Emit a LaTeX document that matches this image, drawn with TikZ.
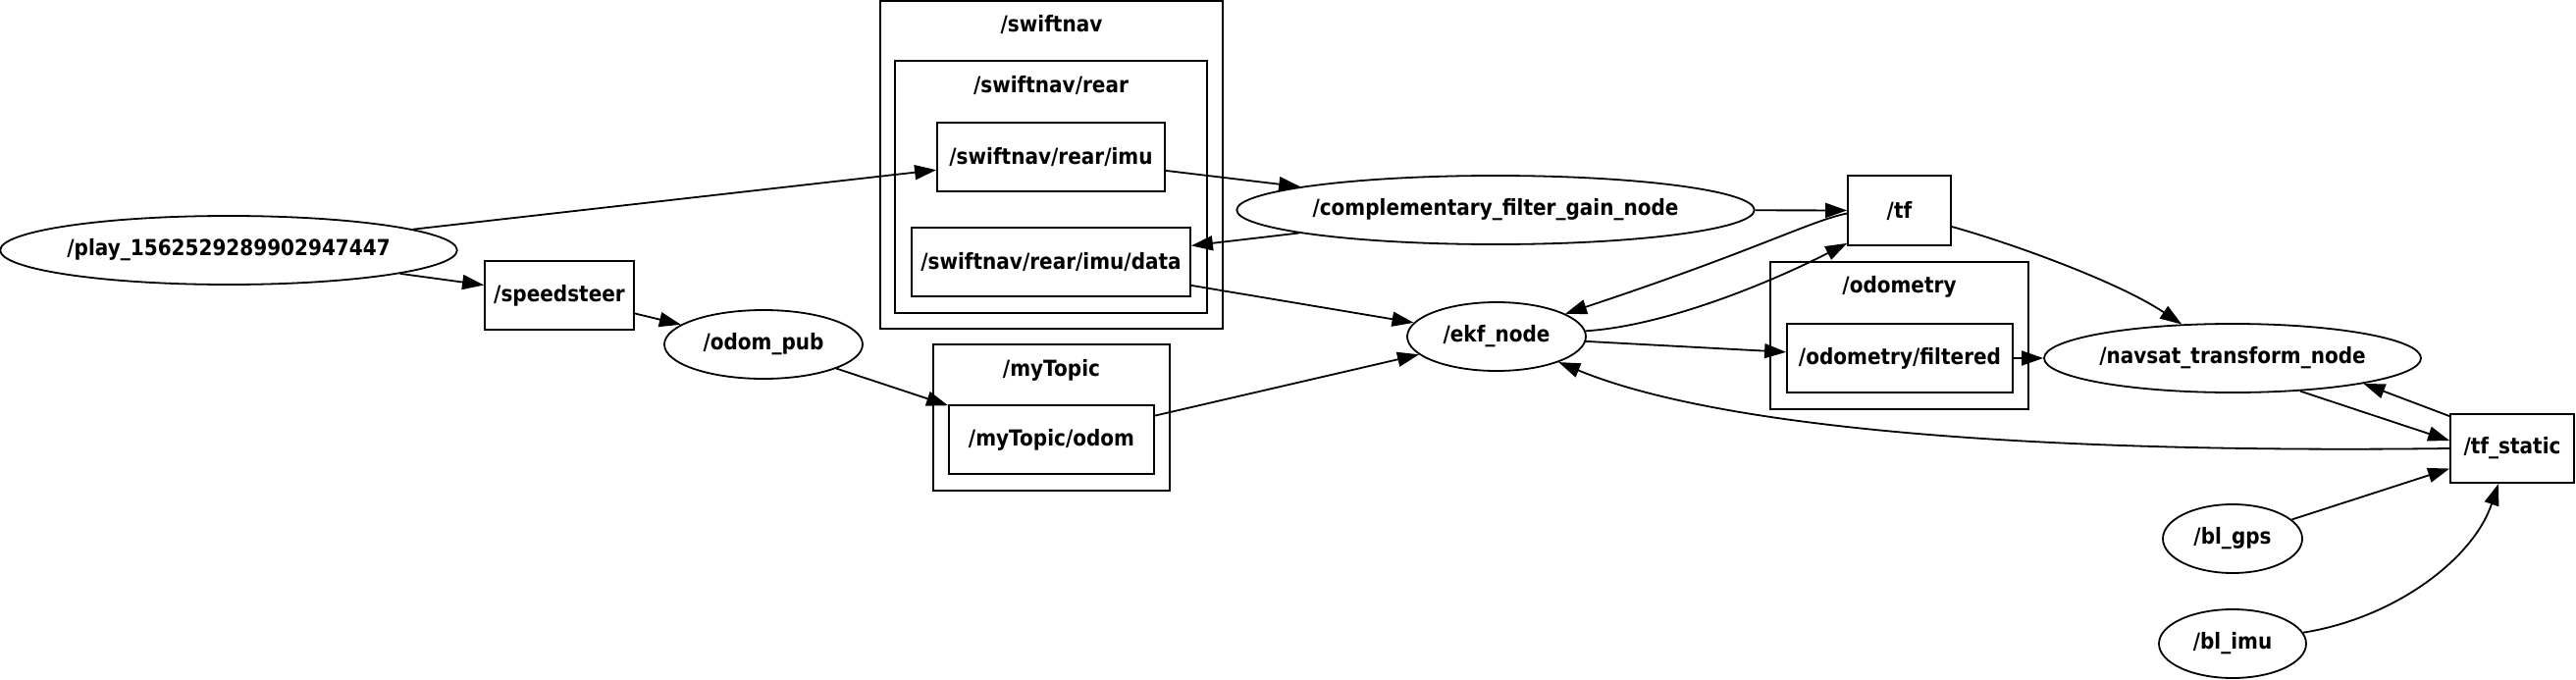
\documentclass[tikz,border=0pt]{standalone}
\usepackage{fontspec}
\setmainfont{DejaVu Sans}[FakeStretch=0.89]
\usetikzlibrary{arrows.meta,shapes.geometric}
\tikzset{
  base/.style={draw, line width=1.8pt, inner sep=0pt, font=\fontsize{22.5}{24}\selectfont\bfseries},
  topicbox/.style={base, rectangle, minimum height=70pt},
  nodeell/.style={base, ellipse, minimum height=70pt},
  cluster/.style={draw, line width=1.8pt, rectangle, inner sep=0pt},
  clabel/.style={inner sep=0pt, font=\fontsize{22.5}{24}\selectfont\bfseries},
  edge/.style={line width=1.8pt, -{Triangle[length=22pt,width=15pt]}},
}
\begin{document}
\begin{tikzpicture}[x=1pt,y=-1pt]
\useasboundingbox (0,0) rectangle (2625,693);
% clusters
\node[cluster, minimum width=349pt, minimum height=334pt] (cswift) at (1071.5,168) {};
\node[clabel] (lswift) at (1071.5,25) {/swiftnav};
\node[cluster, minimum width=318pt, minimum height=257pt] (crear) at (1071,190.5) {};
\node[clabel] (lrear) at (1071,87) {/swiftnav/rear};
\node[cluster, minimum width=241pt, minimum height=149pt] (cmytopic) at (1071.5,425.5) {};
\node[clabel] (lmytopic) at (1071.5,377) {/myTopic};
\node[cluster, minimum width=263pt, minimum height=150pt] (codom) at (1935.5,342) {};
\node[clabel] (lodom) at (1935.5,292) {/odometry};
% topics
\node[topicbox, minimum width=232pt] (imu) at (1071,160) {/swiftnav/rear/imu};
\node[topicbox, minimum width=284pt] (imudata) at (1071,267) {/swiftnav/rear/imu/data};
\node[topicbox, minimum width=152pt] (speedsteer) at (570,301) {/speedsteer};
\node[topicbox, minimum width=209pt] (mtodom) at (1071.5,448) {/myTopic/odom};
\node[topicbox, minimum width=105pt, minimum height=71pt] (tf) at (1935.5,214.5) {/tf};
\node[topicbox, minimum width=230pt] (filtered) at (1936,365) {/odometry/filtered};
\node[topicbox, minimum width=126pt] (tfstatic) at (2560,457) {/tf\_static};
% nodes
\node[nodeell, minimum width=462pt] (play) at (233,255) {/play\_1562529289902947447};
\node[nodeell, minimum width=202pt] (odompub) at (778,351) {/odom\_pub};
\node[nodeell, minimum width=522pt] (comp) at (1524,214) {/complementary\_filter\_gain\_node};
\node[nodeell, minimum width=182pt] (ekf) at (1525,343) {/ekf\_node};
\node[nodeell, minimum width=384pt] (navsat) at (2275,365) {/navsat\_transform\_node};
\node[nodeell, minimum width=142pt] (blgps) at (2275,549) {/bl\_gps};
\node[nodeell, minimum width=150pt] (blimu) at (2275,656) {/bl\_imu};
% edges
\draw[edge] (play) -- (imu);
\draw[edge] (play) -- (speedsteer);
\draw[edge] (speedsteer) -- (odompub);
\draw[edge] (odompub) -- (mtodom);
\draw[edge] (imu) -- (comp);
\draw[edge] (comp) -- (imudata);
\draw[edge] (imudata) -- (ekf);
\draw[edge] (mtodom) -- (ekf);
\draw[edge] (comp) -- (tf);
\draw[edge] ([yshift=-3pt]tf.west) .. controls (1845,225) and (1790,255) .. (ekf);
\draw[edge] (ekf) .. controls (1700,332) and (1810,285) .. ([yshift=3pt]tf.south west);
\draw[edge] (ekf) -- (filtered);
\draw[edge] (filtered) -- (navsat);
\draw[edge] ([yshift=-16.5pt]tf.east) .. controls (2040,245) and (2155,285) .. (navsat);
\draw[edge] (navsat.-26.2) -- ([yshift=8pt]tfstatic.west);
\draw[edge] ([yshift=-3pt]tfstatic.north west) -- (navsat.-11.5);
\draw[edge] (tfstatic.west) .. controls (2100,462) and (1760,440) .. (ekf);
\draw[edge] (blgps) -- (tfstatic);
\draw[edge] (blimu) .. controls (2440,630) and (2520,570) .. ([xshift=-14pt]tfstatic.south);
\end{tikzpicture}
\end{document}
